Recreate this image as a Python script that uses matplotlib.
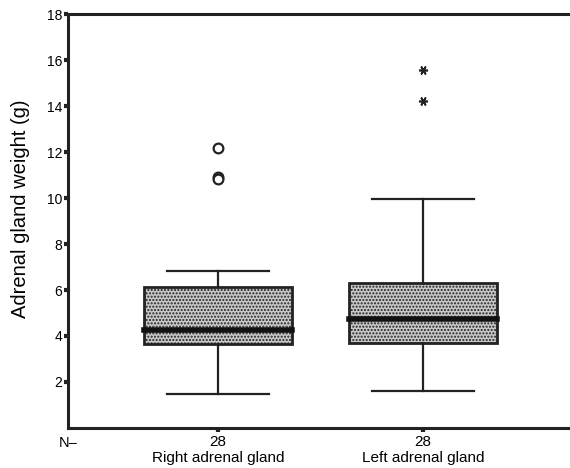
import numpy as np
import matplotlib.pyplot as plt

plt.rcParams['font.family'] = ['Liberation Sans', 'DejaVu Sans']
plt.rcParams['hatch.color'] = '#a0a0a0'

# box statistics (g)
groups = ['Right adrenal gland', 'Left adrenal gland']
counts = [28, 28]
q1 = [3.65, 3.70]
med = [4.25, 4.74]
q3 = [6.12, 6.30]
whislo = [1.48, 1.60]
whishi = [6.82, 9.96]
outliers_circle = [[12.17, 10.92, 10.82], []]
outliers_star = [[], [15.55, 14.22]]

stats = []
for i in range(len(groups)):
    stats.append(dict(label=groups[i], q1=q1[i], med=med[i], q3=q3[i],
                      whislo=whislo[i], whishi=whishi[i], fliers=[]))

fig = plt.figure(figsize=(5.7, 4.68), dpi=100)
ax = fig.add_axes([0.119, 0.0855, 0.881, 0.8845])

pos = np.arange(1, len(groups) + 1)
bp = ax.bxp(stats, positions=pos, widths=0.72, capwidths=0.5, patch_artist=True,
            showfliers=False,
            boxprops=dict(facecolor='#c8c8c8', edgecolor='#222222', linewidth=2, hatch='.....'),
            medianprops=dict(color='#111111', linewidth=4, solid_capstyle='projecting'),
            whiskerprops=dict(color='#222222', linewidth=1.6),
            capprops=dict(color='#222222', linewidth=1.6))

for i in range(len(groups)):
    if outliers_circle[i]:
        ax.plot([pos[i]] * len(outliers_circle[i]), outliers_circle[i], 'o',
                mfc='white', mec='#222222', mew=1.6, ms=7)
    if outliers_star[i]:
        ax.plot([pos[i]] * len(outliers_star[i]), outliers_star[i], ls='none',
                marker=(6, 2, 90), color='#222222', mew=1.2, ms=6.5)

ax.set_xlim(0.268, 2.717)
ax.set_ylim(0, 18)
ax.set_yticks(np.arange(2, 20, 2))
ax.set_xticks(pos)
ax.set_xticklabels(['%d\n%s' % (c, g) for c, g in zip(counts, groups)])
ax.text(0.268, -0.35, 'N\u2013', ha='center', va='top', fontsize=10.5)
ax.set_ylabel('Adrenal gland weight (g)', fontsize=14.5, labelpad=12)
ax.yaxis.label.set_y(0.53)

for s in ['left', 'bottom', 'top']:
    ax.spines[s].set_linewidth(2.2)
    ax.spines[s].set_color('#222222')
ax.spines['right'].set_visible(False)
ax.tick_params(axis='y', length=3, width=3, color='#222222', labelsize=10, pad=1)
ax.tick_params(axis='x', length=3, width=3, color='#222222', labelsize=11, pad=2)

fig.savefig('out.png', dpi=100)
